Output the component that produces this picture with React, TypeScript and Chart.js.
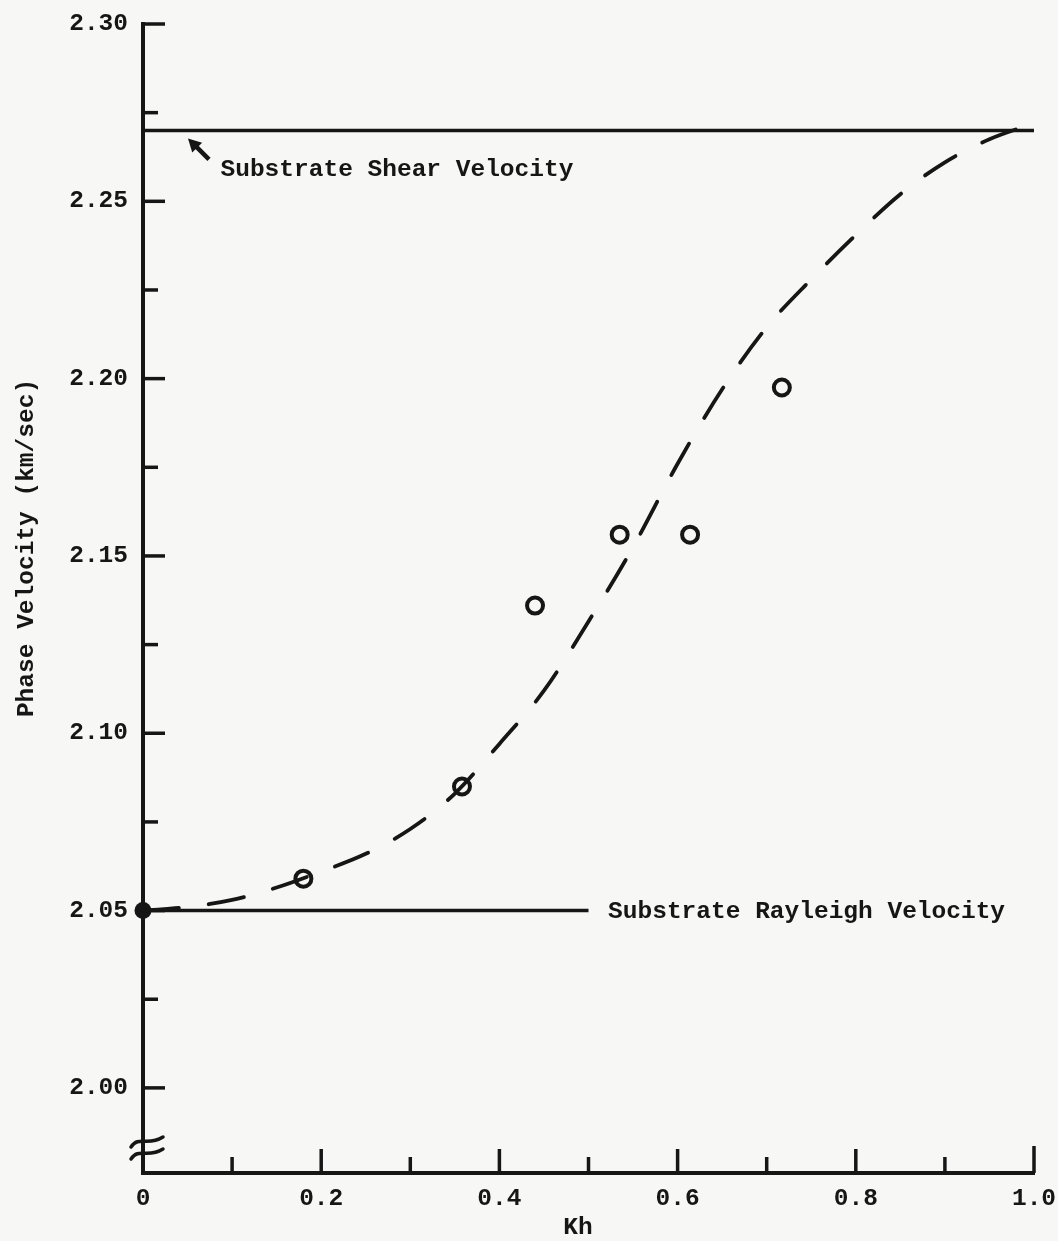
import { useEffect, useRef } from "react";
import { Chart, registerables } from "chart.js";

Chart.register(...registerables);

// ---- Data ----
const curveKh = [0, 0.05, 0.1, 0.15, 0.2, 0.25, 0.3, 0.35, 0.4, 0.45, 0.5, 0.55, 0.6, 0.65, 0.7, 0.75, 0.8, 0.85, 0.9, 0.95, 1.0];
const curveVelocity = [2.05, 2.051, 2.053, 2.0565, 2.061, 2.066, 2.073, 2.083, 2.097, 2.112, 2.1315, 2.1525, 2.176, 2.197, 2.2145, 2.228, 2.2405, 2.252, 2.261, 2.2675, 2.272];

const measuredKh = [0.18, 0.358, 0.44, 0.535, 0.614, 0.717];
const measuredVelocity = [2.059, 2.085, 2.136, 2.156, 2.156, 2.1975];

const shearVelocity = 2.27;
const rayleighVelocity = 2.05;
const rayleighLineKh = [0, 0.5];
const shearLineKh = [0, 1.0];

const yTickValues = [2.0, 2.05, 2.1, 2.15, 2.2, 2.25, 2.3];
const yMinorTickValues = [2.025, 2.075, 2.125, 2.175, 2.225, 2.275];
const xTickValues = [0, 0.2, 0.4, 0.6, 0.8, 1.0];
const xMinorTickValues = [0.1, 0.3, 0.5, 0.7, 0.9];

const yMin = 1.976;
const yMax = 2.3;

const shearLabel = "Substrate Shear Velocity";
const rayleighLabel = "Substrate Rayleigh Velocity";
const yTitle = "Phase Velocity (km/sec)";
const xTitle = "Kh";

// annotation anchors (data units)
const shearLabelAt = { x: 0.087, y: 2.2588 };
const rayleighLabelAt = { x: 0.522, y: 2.0497 };

const INK = "#161616";
const FAMILY = '"Liberation Mono", "Courier New", monospace';
const FONT_SIZE = 24.5;

export default function App() {
  const ref = useRef<HTMLCanvasElement>(null);

  useEffect(() => {
    const canvas = ref.current;
    if (!canvas) return;

    const overlay = {
      id: "overlay",
      beforeDraw(chart: any) {
        const ctx = chart.ctx;
        ctx.save();
        ctx.fillStyle = "#f7f7f5";
        ctx.fillRect(0, 0, chart.width, chart.height);
        ctx.restore();
      },
      afterDraw(chart: any) {
        const ctx = chart.ctx as CanvasRenderingContext2D;
        const xs = chart.scales.x;
        const ys = chart.scales.y;
        const { left, bottom } = chart.chartArea;
        ctx.save();
        ctx.strokeStyle = INK;
        ctx.fillStyle = INK;
        ctx.lineCap = "butt";
        ctx.lineWidth = 3.5;
        const line = (x1: number, y1: number, x2: number, y2: number) => {
          ctx.beginPath();
          ctx.moveTo(x1, y1);
          ctx.lineTo(x2, y2);
          ctx.stroke();
        };
        // inward ticks
        yTickValues.forEach((v) => {
          const py = ys.getPixelForValue(v);
          line(left, py, left + 22, py);
        });
        yMinorTickValues.forEach((v) => {
          const py = ys.getPixelForValue(v);
          line(left, py, left + 15, py);
        });
        xTickValues.forEach((v) => {
          if (v === 0) return;
          const px = xs.getPixelForValue(v);
          line(px, bottom, px, bottom - (v === 1 ? 27 : 24));
        });
        xMinorTickValues.forEach((v) => {
          const px = xs.getPixelForValue(v);
          line(px, bottom, px, bottom - 16);
        });

        // axis break marks
        ctx.lineWidth = 3.5;
        ctx.lineCap = "round";
        [bottom - 32, bottom - 20].forEach((by) => {
          ctx.beginPath();
          ctx.moveTo(left - 12, by + 6);
          ctx.bezierCurveTo(left - 4, by - 6, left + 4, by + 6, left + 20, by - 4);
          ctx.stroke();
        });

        // arrow to shear line
        const shearPy = ys.getPixelForValue(shearVelocity);
        const tipX = left + 45;
        const tipY = shearPy + 8;
        const tailX = tipX + 21;
        const tailY = tipY + 21;
        ctx.lineWidth = 4.5;
        ctx.lineCap = "butt";
        line(tailX, tailY, tipX + 6, tipY + 6);
        const ux = -Math.SQRT1_2, uy = -Math.SQRT1_2;
        const hl = 13, hw = 7;
        const bx = tipX - ux * hl, byy = tipY - uy * hl;
        ctx.beginPath();
        ctx.moveTo(tipX, tipY);
        ctx.lineTo(bx + uy * hw, byy - ux * hw);
        ctx.lineTo(bx - uy * hw, byy + ux * hw);
        ctx.closePath();
        ctx.fill();

        // annotation texts
        ctx.font = `bold ${FONT_SIZE}px ${FAMILY}`;
        ctx.textBaseline = "middle";
        ctx.textAlign = "left";
        ctx.fillText(shearLabel, xs.getPixelForValue(shearLabelAt.x), ys.getPixelForValue(shearLabelAt.y));
        ctx.fillText(rayleighLabel, xs.getPixelForValue(rayleighLabelAt.x), ys.getPixelForValue(rayleighLabelAt.y));

        // axis titles
        ctx.textAlign = "center";
        ctx.fillText(xTitle, 578, 1228);
        ctx.save();
        ctx.translate(27, 548);
        ctx.rotate(-Math.PI / 2);
        ctx.fillText(yTitle, 0, 0);
        ctx.restore();

        ctx.restore();
      },
    };

    const tickFont = { family: FAMILY, size: FONT_SIZE, weight: "bold" as const };

    const chart = new Chart(canvas, {
      type: "scatter",
      data: {
        datasets: [
          {
            label: "Theory",
            type: "line",
            data: curveKh.map((x, i) => ({ x, y: curveVelocity[i] })),
            borderColor: INK,
            borderWidth: 3.8,
            borderDash: [36, 30],
            borderCapStyle: "round",
            pointRadius: 0,
            cubicInterpolationMode: "monotone",
            fill: false,
            clip: false,
          } as any,
          {
            label: "Shear",
            type: "line",
            data: shearLineKh.map((x) => ({ x, y: shearVelocity })),
            borderColor: INK,
            borderWidth: 3.5,
            pointRadius: 0,
            fill: false,
          } as any,
          {
            label: "Rayleigh",
            type: "line",
            data: rayleighLineKh.map((x) => ({ x, y: rayleighVelocity })),
            borderColor: INK,
            borderWidth: 3.5,
            pointRadius: 0,
            fill: false,
          } as any,
          {
            label: "Measured",
            data: measuredKh.map((x, i) => ({ x, y: measuredVelocity[i] })),
            pointRadius: 8,
            pointBorderWidth: 4,
            borderColor: INK,
            backgroundColor: "rgba(0,0,0,0)",
          } as any,
          {
            label: "Origin",
            data: [{ x: 0, y: rayleighVelocity }],
            pointRadius: 8.5,
            pointBorderWidth: 0,
            backgroundColor: INK,
            borderColor: INK,
            clip: false,
          } as any,
        ],
      },
      options: {
        responsive: false,
        animation: false,
        layout: { padding: { top: 24, right: 24, left: 0, bottom: 0 } },
        plugins: { legend: { display: false }, tooltip: { enabled: false } },
        scales: {
          x: {
            type: "linear",
            min: 0,
            max: 1,
            grid: { display: false, drawTicks: false },
            border: { display: true, color: INK, width: 4 },
            afterFit: (s: any) => {
              s.height = 68;
              s.paddingLeft = 0;
              s.paddingRight = 0;
            },
            afterBuildTicks: (s: any) => {
              s.ticks = xTickValues.map((v) => ({ value: v }));
            },
            ticks: {
              font: tickFont,
              color: INK,
              padding: 11,
              autoSkip: false,
              maxRotation: 0,
              callback: (v: any) => (Number(v) === 0 ? "0" : Number(v).toFixed(1)),
            },
          },
          y: {
            type: "linear",
            min: yMin,
            max: yMax,
            grid: { display: false, drawTicks: false },
            border: { display: true, color: INK, width: 4 },
            afterFit: (s: any) => {
              s.width = 143;
              s.paddingTop = 0;
              s.paddingBottom = 0;
            },
            afterBuildTicks: (s: any) => {
              s.ticks = yTickValues.map((v) => ({ value: v }));
            },
            ticks: {
              font: tickFont,
              color: INK,
              padding: 15,
              autoSkip: false,
              callback: (v: any) => Number(v).toFixed(2),
            },
          },
        },
      } as any,
      plugins: [overlay],
    });

    return () => chart.destroy();
  }, []);

  return (
    <div style={{ position: "absolute", left: 0, top: 0, width: 1058, height: 1241 }}>
      <canvas ref={ref} width={1058} height={1241} style={{ display: "block" }} />
    </div>
  );
}
